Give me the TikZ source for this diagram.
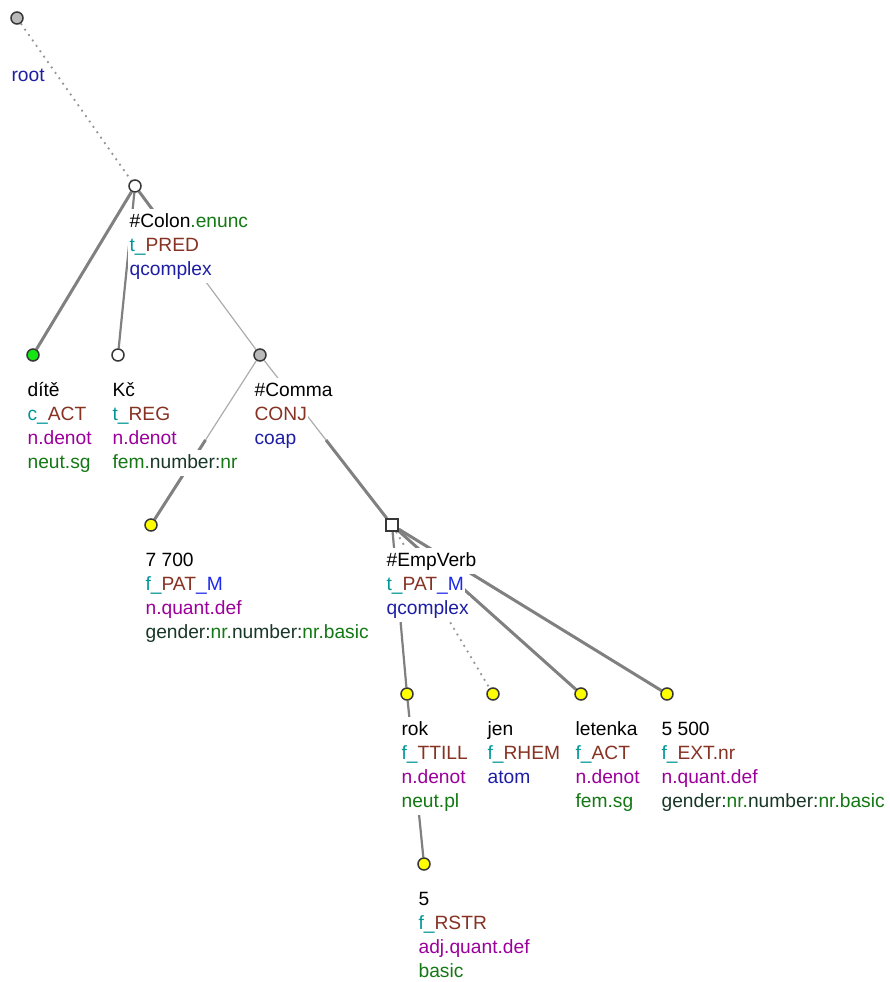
\documentclass[tikz,border=0pt]{standalone}
\usepackage{fontspec}
\setmainfont{Liberation Sans}
\usetikzlibrary{calc, backgrounds}
\definecolor{edgecol}{RGB}{128, 128, 128}
\definecolor{rimcol}{RGB}{55, 55, 55}
\definecolor{dotgray}{RGB}{185, 185, 185}
\definecolor{dotgreen}{RGB}{20, 230, 20}
\definecolor{dotyellow}{RGB}{255, 255, 0}
\definecolor{pfxcol}{RGB}{0, 150, 150}
\definecolor{funcol}{RGB}{135, 50, 35}
\definecolor{memcol}{RGB}{30, 40, 235}
\definecolor{typcol}{RGB}{30, 30, 165}
\definecolor{semcol}{RGB}{155, 0, 155}
\definecolor{grmcol}{RGB}{20, 120, 20}
\definecolor{keycol}{RGB}{25, 55, 40}
\setlength{\fboxsep}{0.6pt}
\setlength{\lineskiplimit}{-20pt}
% every label line gets its own white backing, one full line high
\newcommand{\bgline}[1]{\colorbox{white}{\rule[-3.4pt]{0pt}{12pt}#1}}
\tikzset{
  dot/.style={circle, draw=rimcol, line width=0.75pt, minimum size=6pt, inner sep=0pt},
  sqdot/.style={rectangle, draw=rimcol, line width=0.75pt, minimum size=6pt, inner sep=0pt, fill=white},
  % labels are placed by the baseline of their last line
  lbl/.style={anchor=base west, align=left, inner sep=0pt,
              font=\fontsize{9.6}{12}\selectfont},
  heavy/.style={draw=edgecol, line width=1.5pt},
  medium/.style={draw=edgecol, line width=1.1pt},
  light/.style={draw=edgecol!65, line width=0.6pt},
  dotline/.style={draw=edgecol!85, line width=0.9pt, dash pattern=on 0.9pt off 2.4pt},
}

\begin{document}
\begin{tikzpicture}[x=0.5pt, y=-0.5pt]
  \useasboundingbox (0,0) rectangle (890,982);

  % labels
  \node[lbl] (root-l) at (10,81) {\bgline{\textcolor{typcol}{root}}};
  \node[lbl] (colon-l) at (128,275) {\bgline{\#Colon\textcolor{grmcol}{.enunc}}\\
    \bgline{\textcolor{pfxcol}{t\_}\textcolor{funcol}{PRED}}\\
    \bgline{\textcolor{typcol}{qcomplex}}};
  \node[lbl] (dite-l) at (26,468) {\bgline{dítě}\\
    \bgline{\textcolor{pfxcol}{c\_}\textcolor{funcol}{ACT}}\\
    \bgline{\textcolor{semcol}{n.denot}}\\
    \bgline{\textcolor{grmcol}{neut.sg}}};
  \node[lbl] (kc-l) at (111,468) {\bgline{Kč}\\
    \bgline{\textcolor{pfxcol}{t\_}\textcolor{funcol}{REG}}\\
    \bgline{\textcolor{semcol}{n.denot}}\\
    \bgline{\textcolor{grmcol}{fem.}\textcolor{keycol}{number:}\textcolor{grmcol}{nr}}};
  \node[lbl] (comma-l) at (253,444) {\bgline{\#Comma}\\
    \bgline{\textcolor{funcol}{CONJ}}\\
    \bgline{\textcolor{typcol}{coap}}};
  \node[lbl] (n7700-l) at (144,638) {\bgline{7 700}\\
    \bgline{\textcolor{pfxcol}{f\_}\textcolor{funcol}{PAT}\textcolor{memcol}{\_M}}\\
    \bgline{\textcolor{semcol}{n.quant.def}}\\
    \bgline{\textcolor{keycol}{gender:}\textcolor{grmcol}{nr.}\textcolor{keycol}{number:}\textcolor{grmcol}{nr.basic}}};
  \node[lbl] (emp-l) at (385,614) {\bgline{\#EmpVerb}\\
    \bgline{\textcolor{pfxcol}{t\_}\textcolor{funcol}{PAT}\textcolor{memcol}{\_M}}\\
    \bgline{\textcolor{typcol}{qcomplex}}};
  \node[lbl] (rok-l) at (400,807) {\bgline{rok}\\
    \bgline{\textcolor{pfxcol}{f\_}\textcolor{funcol}{TTILL}}\\
    \bgline{\textcolor{semcol}{n.denot}}\\
    \bgline{\textcolor{grmcol}{neut.pl}}};
  \node[lbl] (jen-l) at (486,783) {\bgline{jen}\\
    \bgline{\textcolor{pfxcol}{f\_}\textcolor{funcol}{RHEM}}\\
    \bgline{\textcolor{typcol}{atom}}};
  \node[lbl] (letenka-l) at (574,807) {\bgline{letenka}\\
    \bgline{\textcolor{pfxcol}{f\_}\textcolor{funcol}{ACT}}\\
    \bgline{\textcolor{semcol}{n.denot}}\\
    \bgline{\textcolor{grmcol}{fem.sg}}};
  \node[lbl] (n5500-l) at (660,807) {\bgline{5 500}\\
    \bgline{\textcolor{pfxcol}{f\_}\textcolor{funcol}{EXT.nr}}\\
    \bgline{\textcolor{semcol}{n.quant.def}}\\
    \bgline{\textcolor{keycol}{gender:}\textcolor{grmcol}{nr.}\textcolor{keycol}{number:}\textcolor{grmcol}{nr.basic}}};
  \node[lbl] (five-l) at (417,977) {\bgline{5}\\
    \bgline{\textcolor{pfxcol}{f\_}\textcolor{funcol}{RSTR}}\\
    \bgline{\textcolor{semcol}{adj.quant.def}}\\
    \bgline{\textcolor{grmcol}{basic}}};

  % tree nodes
  \node[dot, fill=dotgray]   (root)    at (17,18)   {};
  \node[dot, fill=white]     (colon)   at (135,186) {};
  \node[dot, fill=dotgreen]  (dite)    at (33,355)  {};
  \node[dot, fill=white]     (kc)      at (118,355) {};
  \node[dot, fill=dotgray]   (comma)   at (260,355) {};
  \node[dot, fill=dotyellow] (n7700)   at (151,525) {};
  \node[sqdot]               (emp)     at (392,525) {};
  \node[dot, fill=dotyellow] (rok)     at (407,694) {};
  \node[dot, fill=dotyellow] (jen)     at (493,694) {};
  \node[dot, fill=dotyellow] (letenka) at (581,694) {};
  \node[dot, fill=dotyellow] (n5500)   at (667,694) {};
  \node[dot, fill=dotyellow] (five)    at (424,864) {};

  % edge midpoints (edges change width half way)
  \coordinate (m1) at ($(colon)!.5!(comma)$);
  \coordinate (m2) at ($(comma)!.5!(n7700)$);
  \coordinate (m3) at ($(comma)!.5!(emp)$);

  \begin{scope}[on background layer]
    \draw[dotline] (root) -- (colon);
    \draw[heavy]   (colon) -- (dite);
    \draw[medium]  (colon) -- (kc);
    \draw[heavy]   (colon) -- (m1);
    \draw[light]   (m1) -- (comma);
    \draw[light]   (comma) -- (m2);
    \draw[heavy]   (m2) -- (n7700);
    \draw[light]   (comma) -- (m3);
    \draw[heavy]   (m3) -- (emp);
    \draw[medium]  (emp) -- (rok);
    \draw[dotline] (emp) -- (jen);
    \draw[heavy]   (emp) -- (letenka);
    \draw[heavy]   (emp) -- (n5500);
    \draw[medium]  (rok) -- (five);
  \end{scope}
\end{tikzpicture}
\end{document}
